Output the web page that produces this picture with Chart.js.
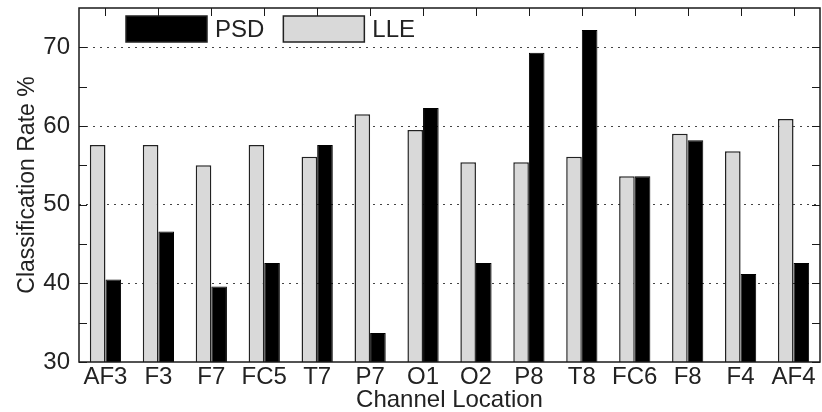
<!DOCTYPE html>
<html>
<head>
<meta charset="utf-8">
<script src="https://cdn.jsdelivr.net/npm/chart.js@4.4.1/dist/chart.umd.min.js"></script>
<style>
  html, body { margin: 0; padding: 0; background: #fff; }
</style>
</head>
<body>
<canvas id="chart" width="822" height="412"></canvas>
<script>
// --- Data ---
const channels = ['AF3', 'F3', 'F7', 'FC5', 'T7', 'P7', 'O1', 'O2', 'P8', 'T8', 'FC6', 'F8', 'F4', 'AF4'];
const lleRates = [57.6, 57.6, 55.0, 57.6, 56.1, 61.5, 59.5, 55.4, 55.4, 56.1, 53.6, 59.0, 56.8, 60.9];
const psdRates = [40.5, 46.6, 39.6, 42.6, 57.6, 33.7, 62.3, 42.6, 69.3, 72.2, 53.6, 58.2, 41.2, 42.6];
const yTickValues = [30, 40, 50, 60, 70];
const yMarkValues = [30, 35, 40, 45, 50, 55, 60, 65, 70];

const FONT = "'Liberation Sans', Arial, sans-serif";
const TEXT = '#222';

// MATLAB style box, inward ticks and in-axes legend
const matlabFrame = {
    id: 'matlabFrame',
    afterDatasetsDraw(chart) {
        const { ctx, chartArea: a, scales } = chart;
        ctx.save();
        ctx.strokeStyle = '#1a1a1a';
        ctx.lineWidth = 1.5;
        ctx.strokeRect(a.left, a.top, a.right - a.left, a.bottom - a.top);

        // y tick marks on both sides
        ctx.lineWidth = 1;
        ctx.beginPath();
        yMarkValues.forEach(v => {
            const y = Math.round(scales.y.getPixelForValue(v)) + 0.5;
            ctx.moveTo(a.left, y); ctx.lineTo(a.left + 8, y);
            ctx.moveTo(a.right - 8, y); ctx.lineTo(a.right, y);
        });
        // x tick marks on top
        channels.forEach((c, i) => {
            const x = Math.round(scales.x.getPixelForValue(i)) + 0.5;
            ctx.moveTo(x, a.top); ctx.lineTo(x, a.top + 8);
        });
        ctx.stroke();

        // legend (reversed dataset order, like the original)
        ctx.font = `24px ${FONT}`;
        ctx.textBaseline = 'middle';
        let x = a.left + 47;
        const y = a.top + 8, w = 81, h = 26;
        chart.data.datasets.slice().reverse().forEach(ds => {
            ctx.fillStyle = ds.backgroundColor;
            ctx.fillRect(x, y, w, h);
            ctx.strokeStyle = '#222';
            ctx.lineWidth = 1.5;
            ctx.strokeRect(x, y, w, h);
            ctx.fillStyle = TEXT;
            ctx.fillText(ds.label, x + w + 8, y + h / 2 + 1);
            x += w + 8 + ctx.measureText(ds.label).width + 19;
        });
        ctx.restore();
    }
};

new Chart(document.getElementById('chart'), {
    type: 'bar',
    data: {
        labels: channels,
        datasets: [{
            label: 'LLE',
            data: lleRates,
            backgroundColor: '#d9d9d9',
            borderColor: '#222',
            borderWidth: 1.5,
            barPercentage: 1,
            categoryPercentage: 0.59
        }, {
            label: 'PSD',
            data: psdRates,
            backgroundColor: '#000',
            borderColor: '#000',
            borderWidth: 1,
            barPercentage: 1,
            categoryPercentage: 0.59
        }]
    },
    options: {
        responsive: false,
        animation: false,
        devicePixelRatio: 1,
        layout: { padding: { left: 0, right: 2, top: 8, bottom: 0 } },
        plugins: { legend: { display: false }, tooltip: { enabled: false } },
        scales: {
            x: {
                grid: { display: false, drawTicks: false },
                border: { display: false },
                ticks: { font: { family: FONT, size: 24 }, color: TEXT, padding: 1, maxRotation: 0, autoSkip: false },
                title: { display: true, text: 'Channel Location', color: TEXT,
                         font: { family: FONT, size: 24 }, padding: { top: 0, bottom: -3 } },
                afterFit(s) { s.height = 50; }
            },
            y: {
                min: 30,
                max: 75,
                afterBuildTicks(s) { s.ticks = yTickValues.map(v => ({ value: v })); },
                grid: {
                    color: c => (c.tick && c.tick.value === 30) ? 'rgba(0,0,0,0)' : '#444',
                    lineWidth: 1,
                    drawTicks: false
                },
                border: { display: false, dash: [2, 5] },
                ticks: { font: { family: FONT, size: 24 }, color: TEXT, padding: 9 },
                title: { display: true, text: 'Classification Rate %', color: TEXT,
                         font: { family: FONT, size: 23 }, padding: { top: 14, bottom: 0 } },
                afterFit(s) { s.width = 79; s.paddingTop = 0; s.paddingBottom = 0; }
            }
        }
    },
    plugins: [matlabFrame]
});
</script>
</body>
</html>
